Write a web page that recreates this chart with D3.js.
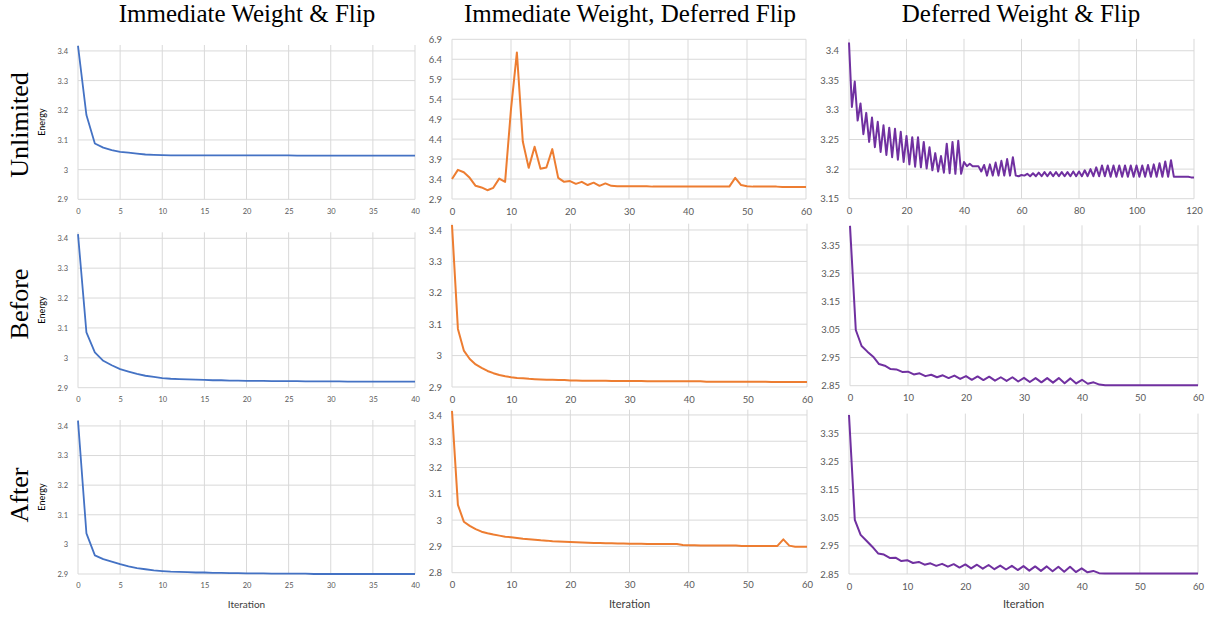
<!DOCTYPE html>
<html>
<head>
<meta charset="utf-8">
<script src="https://cdn.jsdelivr.net/npm/d3@7"></script>
<style>
  body { margin: 0; background: #fff; }
  svg { display: block; }
</style>
</head>
<body>
<svg></svg>
<script>
// column titles and row labels
var colTitles = ["Immediate Weight & Flip", "Immediate Weight, Deferred Flip", "Deferred Weight & Flip"];
var rowLabels = ["Unlimited", "Before", "After"];

// tick labels
var xTicks40 = [0, 5, 10, 15, 20, 25, 30, 35, 40];
var xTicks60 = [0, 10, 20, 30, 40, 50, 60];
var xTicks120 = [0, 20, 40, 60, 80, 100, 120];
var yTicksA = [2.9, 3, 3.1, 3.2, 3.3, 3.4];
var yTicksB = [2.9, 3.4, 3.9, 4.4, 4.9, 5.4, 5.9, 6.4, 6.9];
var yTicksC = [3.15, 3.2, 3.25, 3.3, 3.35, 3.4];
var yTicksD = [2.85, 2.95, 3.05, 3.15, 3.25, 3.35];
var yTicksE = [2.8, 2.9, 3, 3.1, 3.2, 3.3, 3.4];

// energy per iteration, one array per panel
var unlimitedImmediate = [3.417,3.184,3.088,3.074,3.066,3.060,3.057,3.054,3.051,3.050,3.049,
  3.048,3.048,3.048,3.048,3.048,3.048,3.048,3.048,3.048,3.048,3.048,3.048,3.048,3.048,3.048,
  3.047,3.047,3.047,3.047,3.047,3.047,3.047,3.047,3.047,3.047,3.047,3.047,3.047,3.047,3.047];
var unlimitedDeferredFlip = [3.40,3.63,3.57,3.43,3.23,3.19,3.12,3.18,3.41,3.33,5.15,6.57,4.34,3.68,4.21,3.66,3.69,4.15,3.43,3.33,
  3.35,3.28,3.33,3.25,3.31,3.23,3.29,3.23,3.22,3.22,3.22,3.22,3.22,3.22,3.21,3.21,3.21,3.21,3.21,3.21,
  3.21,3.21,3.21,3.21,3.21,3.21,3.21,3.21,3.43,3.25,3.22,3.21,3.21,3.21,3.21,3.21,3.20,3.20,3.20,3.20,3.20];
var unlimitedDeferred = [3.414,3.305,3.348,3.282,3.311,3.259,3.295,3.246,3.287,3.237,3.280,3.229,3.274,3.224,3.270,3.220,
  3.268,3.216,3.263,3.212,3.256,3.208,3.254,3.204,3.254,3.203,3.246,3.201,3.237,3.198,3.227,3.196,3.222,3.194,3.243,3.193,
  3.246,3.192,3.248,3.192,3.212,3.205,3.209,3.205,3.205,3.205,3.196,3.207,3.189,3.208,3.189,3.211,3.189,3.214,3.189,3.217,
  3.189,3.220,3.189,3.188,3.190,3.189,3.192,3.188,3.193,3.188,3.194,3.188,3.195,3.188,3.195,3.188,3.195,3.188,3.195,3.188,
  3.195,3.188,3.196,3.188,3.196,3.188,3.198,3.188,3.200,3.188,3.203,3.188,3.206,3.188,3.206,3.187,3.206,3.187,3.206,3.187,
  3.206,3.187,3.206,3.187,3.206,3.187,3.206,3.187,3.207,3.187,3.208,3.187,3.210,3.187,3.213,3.187,3.215,3.187,3.187,3.187,
  3.187,3.187,3.187,3.186,3.186];
var beforeImmediate = [3.414,3.085,3.018,2.990,2.975,2.962,2.954,2.946,2.940,2.936,2.932,2.930,2.929,2.928,2.927,2.926,
  2.925,2.925,2.924,2.924,2.923,2.923,2.923,2.922,2.922,2.922,2.922,2.921,2.921,2.921,2.921,2.921,2.920,2.920,2.920,2.920,
  2.920,2.920,2.920,2.920,2.920];
var beforeDeferredFlip = [3.416,3.085,3.016,2.989,2.972,2.961,2.951,2.944,2.938,2.934,2.931,2.929,2.928,2.926,2.925,2.924,
  2.923,2.923,2.922,2.922,2.921,2.921,2.920,2.920,2.920,2.920,2.920,2.919,2.919,2.919,2.919,2.919,2.919,2.918,2.918,2.918,
  2.918,2.918,2.918,2.918,2.918,2.918,2.918,2.917,2.917,2.917,2.917,2.917,2.917,2.917,2.917,2.917,2.917,2.917,2.916,2.916,
  2.916,2.916,2.916,2.916,2.916];
var beforeDeferred = [3.418,3.048,2.991,2.971,2.953,2.927,2.921,2.909,2.908,2.899,2.900,2.890,2.894,2.884,2.889,2.880,
  2.887,2.877,2.886,2.874,2.884,2.871,2.883,2.870,2.882,2.868,2.880,2.867,2.880,2.865,2.878,2.863,2.877,2.862,2.877,2.861,
  2.877,2.859,2.876,2.858,2.871,2.857,2.862,2.854,2.852,2.852,2.852,2.852,2.852,2.852,2.852,2.852,2.852,2.852,2.852,2.852,
  2.852,2.852,2.852,2.852,2.852];
var afterImmediate = [3.418,3.037,2.963,2.950,2.942,2.933,2.926,2.920,2.916,2.912,2.910,2.908,2.907,2.906,2.905,2.905,
  2.904,2.904,2.903,2.903,2.902,2.902,2.902,2.901,2.901,2.901,2.901,2.901,2.900,2.900,2.900,2.900,2.900,2.900,2.900,2.900,
  2.900,2.900,2.900,2.900,2.900];
var afterDeferredFlip = [3.415,3.058,2.994,2.978,2.966,2.956,2.950,2.945,2.941,2.937,2.935,2.932,2.929,2.927,2.925,2.923,
  2.922,2.920,2.919,2.918,2.917,2.916,2.915,2.914,2.913,2.913,2.912,2.912,2.911,2.911,2.910,2.910,2.910,2.909,2.909,2.909,
  2.909,2.909,2.909,2.905,2.904,2.904,2.903,2.903,2.903,2.903,2.903,2.903,2.903,2.902,2.902,2.902,2.902,2.902,2.902,2.902,
  2.927,2.903,2.899,2.899,2.899];
var afterDeferred = [3.415,3.042,2.989,2.968,2.947,2.923,2.919,2.907,2.908,2.896,2.899,2.889,2.893,2.883,2.888,2.879,
  2.886,2.876,2.885,2.873,2.884,2.870,2.883,2.869,2.882,2.867,2.880,2.866,2.879,2.864,2.878,2.862,2.877,2.861,2.877,2.860,
  2.876,2.858,2.876,2.857,2.870,2.856,2.861,2.853,2.852,2.852,2.852,2.852,2.852,2.852,2.852,2.852,2.852,2.852,2.852,2.852,
  2.852,2.852,2.852,2.852,2.852];

var blue = "#4472c4", orange = "#ed7d31", purple = "#7030a0";

// panel layout (pixel boxes of plot areas)
var panels = [
  {data: unlimitedImmediate, xMax: 40, xt: xTicks40, yt: yTicksA, y0: 2.9, y1: 3.42, color: blue, l: 78, r: 415, t: 45, b: 199.3, fs: 7.5, lw: 1.8},
  {data: unlimitedDeferredFlip, xMax: 60, xt: xTicks60, yt: yTicksB, y0: 2.9, y1: 6.9, color: orange, l: 452, r: 806, t: 39.3, b: 199, fs: 9.5, lw: 2},
  {data: unlimitedDeferred, xMax: 120, xt: xTicks120, yt: yTicksC, y0: 3.15, y1: 3.42, color: purple, l: 849, r: 1194, t: 38.9, b: 198.7, fs: 9.5, lw: 2},
  {data: beforeImmediate, xMax: 40, xt: xTicks40, yt: yTicksA, y0: 2.9, y1: 3.42, color: blue, l: 78, r: 415, t: 232.3, b: 387.7, fs: 7.5, lw: 1.8},
  {data: beforeDeferredFlip, xMax: 60, xt: xTicks60, yt: yTicksA, y0: 2.9, y1: 3.42, color: orange, l: 452, r: 807, t: 223.7, b: 387, fs: 9.5, lw: 2},
  {data: beforeDeferred, xMax: 60, xt: xTicks60, yt: yTicksD, y0: 2.85, y1: 3.42, color: purple, l: 850, r: 1198, t: 225.3, b: 385.7, fs: 9.5, lw: 2},
  {data: afterImmediate, xMax: 40, xt: xTicks40, yt: yTicksA, y0: 2.9, y1: 3.42, color: blue, l: 78, r: 415, t: 420, b: 574, fs: 7.5, lw: 1.8},
  {data: afterDeferredFlip, xMax: 60, xt: xTicks60, yt: yTicksE, y0: 2.8, y1: 3.42, color: orange, l: 452, r: 807, t: 409.7, b: 572.7, fs: 9.5, lw: 2},
  {data: afterDeferred, xMax: 60, xt: xTicks60, yt: yTicksD, y0: 2.85, y1: 3.42, color: purple, l: 849, r: 1198, t: 413.6, b: 574, fs: 9.5, lw: 2}
];

var width = 1210, height = 617;
var svg = d3.select("svg")
    .attr("width", width)
    .attr("height", height);

var tickFont = "Lato, 'Open Sans', sans-serif";
var fmt = function(v) { return String(+v.toFixed(2)); };

panels.forEach(function(p, i) {
  var x = d3.scaleLinear().domain([0, p.xMax]).range([p.l, p.r]);
  var y = d3.scaleLinear().domain([p.y0, p.y1]).range([p.b, p.t]);
  var g = svg.append("g");

  // horizontal gridlines
  g.selectAll(".hg")
    .data(p.yt)
    .enter().append("line")
    .attr("x1", p.l).attr("x2", p.r)
    .attr("y1", function(d) { return y(d); })
    .attr("y2", function(d) { return y(d); })
    .attr("stroke", "#d9d9d9").attr("stroke-width", 1);

  // vertical gridlines
  g.selectAll(".vg")
    .data(p.xt)
    .enter().append("line")
    .attr("x1", function(d) { return x(d); })
    .attr("x2", function(d) { return x(d); })
    .attr("y1", p.t).attr("y2", p.b)
    .attr("stroke", "#d9d9d9").attr("stroke-width", 1);

  // y axis
  g.append("g")
    .attr("transform", "translate(" + p.l + ",0)")
    .call(d3.axisLeft(y).tickValues(p.yt).tickSize(0).tickPadding(10).tickFormat(fmt))
    .call(function(a) { a.select(".domain").remove(); })
    .selectAll("text")
    .attr("fill", "#595959")
    .style("font-family", tickFont)
    .style("font-size", p.fs + "px");

  // x axis
  g.append("g")
    .attr("transform", "translate(0," + p.b + ")")
    .call(d3.axisBottom(x).tickValues(p.xt).tickSize(0).tickPadding(9).tickFormat(d3.format("d")))
    .call(function(a) { a.select(".domain").remove(); })
    .selectAll("text")
    .attr("fill", "#595959")
    .style("font-family", tickFont)
    .style("font-size", p.fs + "px");

  // series line
  var line = d3.line()
    .x(function(d, j) { return x(j); })
    .y(function(d) { return y(d); });
  g.append("path")
    .datum(p.data)
    .attr("d", line)
    .attr("fill", "none")
    .attr("stroke", p.color)
    .attr("stroke-width", p.lw)
    .attr("stroke-linejoin", "round");

  // axis titles
  var col = i % 3, row = Math.floor(i / 3);
  if (col === 0) {
    svg.append("text")
      .attr("transform", "translate(45," + ((p.t + p.b) / 2) + ") rotate(-90)")
      .attr("text-anchor", "middle")
      .style("font-family", tickFont)
      .style("font-size", "9px")
      .attr("fill", "#000")
      .text("Energy");
  }
  if (row === 2) {
    svg.append("text")
      .attr("x", (p.l + p.r) / 2)
      .attr("y", 608)
      .attr("text-anchor", "middle")
      .style("font-family", tickFont)
      .style("font-size", col === 0 ? "10px" : "11px")
      .attr("fill", "#404040")
      .text("Iteration");
  }
});

// column titles
var titleX = [247, 630, 1021];
svg.selectAll(".title")
  .data(colTitles)
  .enter().append("text")
  .attr("x", function(d, i) { return titleX[i]; })
  .attr("y", 22)
  .attr("text-anchor", "middle")
  .style("font-family", "'Liberation Serif', 'Times New Roman', serif")
  .style("font-size", "25px")
  .text(function(d) { return d; });

// row labels
var rowY = [125, 304, 495];
svg.selectAll(".rowlab")
  .data(rowLabels)
  .enter().append("text")
  .attr("transform", function(d, i) { return "translate(28," + rowY[i] + ") rotate(-90)"; })
  .attr("text-anchor", "middle")
  .style("font-family", "'Liberation Serif', 'Times New Roman', serif")
  .style("font-size", "26px")
  .text(function(d) { return d; });
</script>
</body>
</html>
